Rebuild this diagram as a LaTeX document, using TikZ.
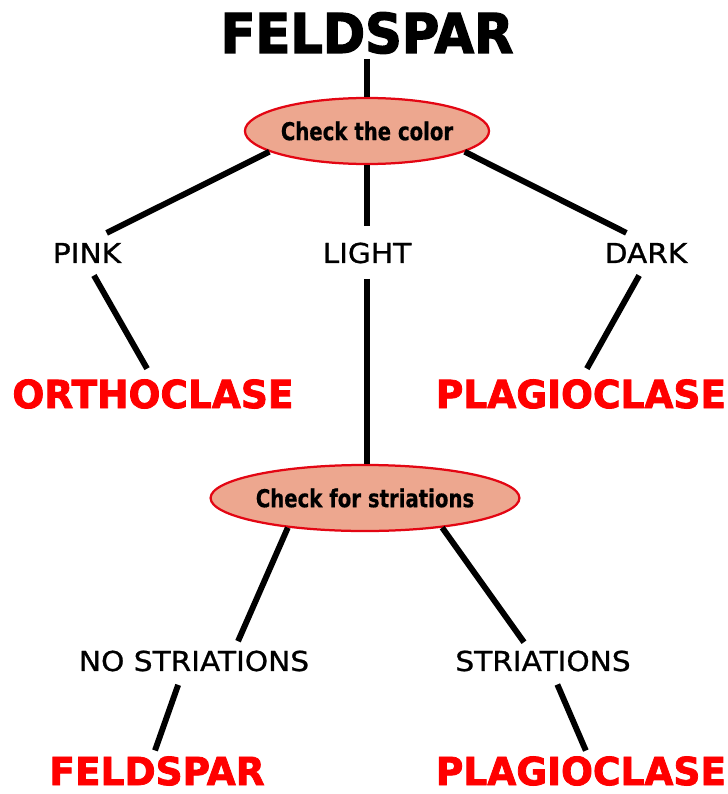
\documentclass[tikz,border=0pt]{standalone}
\usepackage{fontspec}
\newfontfamily\headfont[FakeStretch=0.93,FakeBold=2.5]{DejaVu Sans}
\newfontfamily\askfont[FakeStretch=0.8,FakeBold=0.6]{DejaVu Sans}
\newfontfamily\tagfont[FakeStretch=1.08,FakeBold=1]{DejaVu Sans}
\newfontfamily\endfont[FakeStretch=0.97,FakeBold=2]{DejaVu Sans}
\usetikzlibrary{shapes.geometric}
\definecolor{salmon}{HTML}{EDA78F}
\definecolor{redline}{HTML}{E30613}
\tikzset{
  title/.style={inner sep=0pt,font=\headfont\bfseries\fontsize{39}{39}\selectfont},
  check/.style={ellipse,draw=redline,line width=1.6pt,fill=salmon,inner sep=0pt,minimum height=1.65cm,font=\askfont\bfseries\fontsize{17.5}{17.5}\selectfont},
  choice/.style={inner sep=0pt,font=\tagfont\fontsize{19.5}{19.5}\selectfont},
  result/.style={inner sep=0pt,text=red,font=\endfont\bfseries\fontsize{27.5}{27.5}\selectfont},
  stick/.style={line width=4.2pt}
}
\begin{document}
\begin{tikzpicture}[x=0.025cm,y=-0.025cm]
\useasboundingbox (0,0) rectangle (728,794);
\node[title] (feldspar) at (367,33) {FELDSPAR};
\node[check,minimum width=6.1cm] (color) at (367,131) {Check the color};
\node[choice] (pink) at (87,253) {PINK};
\node[choice] (light) at (367,253) {LIGHT};
\node[choice] (dark) at (646,253) {DARK};
\node[result] (ortho) at (153,394) {ORTHOCLASE};
\node[result] (plagA) at (581,394) {PLAGIOCLASE};
\node[check,minimum width=7.1cm] (stria) at (365,498) {Check for striations};
\node[choice] (nostr) at (194,661) {NO STRIATIONS};
\node[choice] (str) at (543,661) {STRIATIONS};
\node[result] (felds) at (157,771) {FELDSPAR};
\node[result] (plagB) at (581,771) {PLAGIOCLASE};
\draw[stick,shorten <=.12cm] (feldspar) -- (color);
\draw[stick,shorten >=.55cm] (color.192) -- (pink.north);
\draw[stick,shorten >=.4cm] (color) -- (light.north);
\draw[stick,shorten >=.55cm] (color.348) -- (dark.north);
\draw[stick,shorten <=.35cm,shorten >=.3cm] (pink.south) -- (ortho.north);
\draw[stick,shorten <=.35cm,shorten >=.3cm] (dark.south) -- (plagA.north);
\draw[stick,shorten <=.38cm] (light.south) -- (light.south |- stria.north);
\draw[stick,shorten >=.25cm] (stria.201) -- ([xshift=1cm]nostr.north);
\draw[stick,shorten >=.25cm] (stria.339) -- ([xshift=-.33cm]str.north);
\draw[stick,shorten <=.35cm,shorten >=.15cm] ([xshift=-.28cm]nostr.south) -- ([xshift=-.1cm]felds.north);
\draw[stick,shorten <=.35cm,shorten >=.15cm] ([xshift=.22cm]str.south) -- ([xshift=.18cm]plagB.north);
\end{tikzpicture}
\end{document}
